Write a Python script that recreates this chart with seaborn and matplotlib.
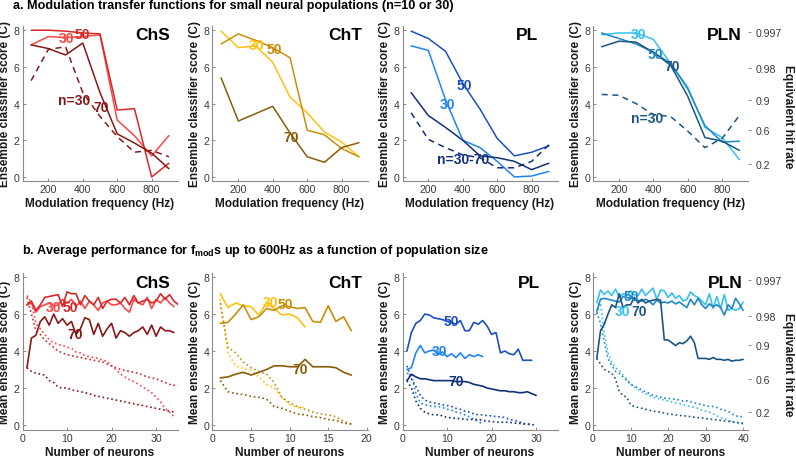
import matplotlib
matplotlib.use('Agg')
import matplotlib.pyplot as plt
import seaborn as sns
import numpy as np

sns.set_theme(style='ticks')
plt.rcParams['font.family'] = ['Liberation Sans', 'DejaVu Sans']
plt.rcParams['mathtext.fontset'] = 'custom'
plt.rcParams['mathtext.bf'] = 'Liberation Sans:bold'
plt.rcParams['mathtext.rm'] = 'Liberation Sans'

# ---------------- data: top row (modulation transfer functions) ----------------
freq = [100, 200, 300, 400, 500, 600, 700, 800, 900]

chs_t30 = [7.2, 7.65, 7.6, 7.65, 7.75, 3.1, 2.25, 1.15, 2.25]
chs_t50 = [8.0, 8.0, 7.95, 7.85, 7.8, 3.65, 3.72, 0.0, 0.75]
chs_t70 = [7.2, 7.0, 6.65, 7.3, 4.6, 2.35, 1.85, 1.3, 0.45]
chs_tn30 = [5.25, 6.95, 7.1, 4.6, 3.3, 2.2, 1.35, 1.45, 1.1]

cht_t30 = [7.95, 7.05, 7.15, 6.25, 4.35, 3.5, 2.45, 1.9, 1.1]
cht_t50 = [7.25, 7.8, 7.45, 7.05, 6.5, 2.55, 2.3, 1.55, 1.1]
cht_t70 = [5.4, 3.05, 3.45, 3.85, 2.4, 1.1, 0.8, 1.6, 1.87]

pl_t30 = [7.15, 6.9, 4.2, 2.0, 1.6, 0.85, 0.0, 0.05, 0.3]
pl_t50 = [7.95, 7.55, 6.85, 5.1, 3.7, 2.1, 1.15, 1.35, 1.7]
pl_t70 = [4.6, 3.35, 2.7, 2.0, 1.15, 1.05, 0.85, 0.4, 0.75]
pl_tn = [3.5, 2.05, 1.6, 1.2, 1.05, 0.5, 0.5, 0.85, 1.75]

pln_t30 = [7.75, 7.85, 7.85, 7.5, 6.2, 4.9, 2.7, 2.15, 0.95]
pln_t50 = [7.85, 7.55, 7.25, 6.8, 6.2, 4.8, 2.8, 1.9, 1.95]
pln_t70 = [7.1, 7.4, 7.35, 6.8, 6.1, 4.4, 2.15, 1.95, 1.45]
pln_tn = [4.5, 4.45, 4.0, 3.4, 3.3, 2.5, 1.6, 2.1, 3.35]

# ---------------- data: bottom row (performance vs number of neurons) ----------------
chs_b30 = [6.5, 6.6, 6.1, 6.4, 6.5, 6.6, 6.4, 6.5, 6.8, 6.6, 6.8, 6.4, 6.7, 6.3, 6.7, 6.5, 6.2,
           6.6, 6.7, 6.5, 6.5, 6.6, 6.3, 6.1, 6.8, 6.6, 6.5, 6.9, 6.3, 6.8, 6.6, 6.9, 6.6, 6.4]
chs_b50 = [6.5, 6.7, 6.2, 6.5, 6.9, 6.95, 7.0, 7.05, 6.4, 7.2, 7.1, 7.1, 6.5, 7.0, 6.7, 6.5, 6.9,
           6.3, 6.7, 6.8, 6.8, 6.6, 6.9, 6.5, 7.0, 6.6, 6.7, 6.8, 6.6, 6.7, 7.1, 6.8, 7.05, 6.7, 6.5]
chs_b70 = [3.1, 4.7, 4.85, 5.6, 5.85, 5.4, 6.0, 5.5, 5.75, 5.4, 5.6, 4.9, 5.2, 5.8, 5.7, 4.9, 5.5,
           4.8, 5.2, 5.5, 4.7, 5.1, 5.0, 4.8, 5.0, 5.1, 5.3, 4.9, 5.4, 4.8, 5.3, 5.1, 5.1, 5.0]
chs_d30 = [7.0, 6.6, 5.5, 5.2, 4.9, 4.6, 4.45, 4.35, 4.3, 4.2, 4.15, 3.95, 3.9, 3.75, 3.7, 3.65, 3.6,
           3.5, 3.45, 3.2, 3.0, 2.75, 2.6, 2.45, 2.35, 2.2, 2.05, 1.9, 1.75, 1.5, 1.25, 0.9, 0.7, 0.45]
chs_d50 = [6.9, 6.0, 5.1, 4.9, 4.6, 4.4, 4.2, 4.0, 3.9, 3.8, 3.75, 3.7, 3.65, 3.6, 3.55, 3.5, 3.45,
           3.4, 3.3, 3.2, 3.1, 3.0, 2.95, 2.9, 2.85, 2.8, 2.7, 2.6, 2.55, 2.5, 2.4, 2.3, 2.2, 2.15, 2.15]
chs_d70 = [3.1, 2.9, 2.8, 2.75, 2.7, 2.4, 2.3, 2.05, 2.0, 2.0, 1.9, 1.85, 1.8, 1.75, 1.7, 1.6, 1.55,
           1.5, 1.45, 1.4, 1.35, 1.3, 1.25, 1.2, 1.15, 1.1, 1.05, 1.0, 0.95, 0.9, 0.85, 0.8, 0.75, 0.7]

cht_b30 = [7.1, 6.35, 6.6, 6.45, 6.4, 5.95, 6.6, 6.3, 5.95, 6.0, 5.8, 5.3]
cht_b50 = [5.5, 5.55, 6.0, 6.5, 5.7, 5.85, 6.3, 6.2, 6.45, 6.4, 6.3, 6.35, 5.6, 5.55, 6.45, 5.6, 5.85, 5.1]
cht_b70 = [2.55, 2.6, 2.75, 2.85, 2.7, 2.85, 3.0, 3.2, 3.2, 3.15, 3.15, 3.55, 3.15, 3.15, 3.15, 3.1, 2.85, 2.7]
cht_d30 = [6.8, 3.9, 3.2, 3.05, 2.95, 2.6, 2.2, 2.0, 1.5, 1.1, 0.95, 0.95]
cht_d50 = [6.6, 4.2, 3.9, 3.4, 3.1, 2.9, 2.75, 2.3, 1.5, 1.2, 1.0, 0.85, 0.7, 0.6, 0.55, 0.45, 0.2, 0.05]
cht_d70 = [2.4, 1.8, 1.7, 1.65, 1.55, 1.5, 1.4, 1.0, 0.9, 0.75, 0.6, 0.55, 0.45, 0.4, 0.3, 0.25, 0.1, 0.05]

pl_b30 = [3.0, 3.1, 3.9, 4.3, 3.9, 4.0, 4.05, 3.8, 3.95, 3.7, 3.85, 3.65, 3.9, 3.6, 3.8, 3.7, 3.8, 3.7]
pl_b50 = [4.0, 5.0, 5.5, 5.65, 6.0, 5.95, 5.8, 5.75, 5.7, 5.6, 5.55, 5.45, 5.65, 5.1, 5.1, 5.55, 5.45,
          5.65, 5.35, 4.9, 5.0, 3.9, 4.0, 3.85, 3.8, 4.1, 3.5, 3.5, 3.5]
pl_b70 = [2.4, 2.75, 2.6, 2.5, 2.5, 2.45, 2.4, 2.4, 2.4, 2.4, 2.4, 2.35, 2.35, 2.35, 2.3, 2.2, 2.15,
          2.1, 2.0, 1.95, 1.9, 1.85, 1.85, 1.8, 1.8, 1.75, 1.75, 1.8, 1.7, 1.6]
pl_d30 = [2.8, 2.7, 1.7, 1.2, 1.1, 1.05, 1.0, 1.0, 0.95, 0.85, 0.8, 0.7, 0.65, 0.55, 0.45, 0.3, 0.2, 0.05]
pl_d50 = [3.2, 2.5, 2.1, 1.6, 1.35, 1.25, 1.2, 1.15, 1.1, 1.05, 1.0, 0.9, 0.85, 0.75, 0.7, 0.6, 0.55,
          0.55, 0.5, 0.5, 0.45, 0.45, 0.4, 0.3, 0.25, 0.2, 0.1, 0.05, 0.02]
pl_d70 = [2.4, 2.0, 1.3, 0.9, 0.7, 0.6, 0.55, 0.55, 0.5, 0.4, 0.4, 0.35, 0.35, 0.3, 0.3, 0.3, 0.3,
          0.25, 0.2, 0.2, 0.15, 0.15, 0.15, 0.15, 0.1, 0.1, 0.05, 0.05, 0.02, 0.0]

pln_b30 = [6.6, 7.3, 7.05, 7.25, 7.0, 7.35, 6.9, 7.1, 7.0, 7.25, 7.05, 7.0, 7.35, 7.0, 7.2, 7.4, 6.8,
           7.3, 7.25, 6.9, 7.15, 6.85, 7.0, 6.7, 6.8, 7.2, 7.0, 6.9, 6.7, 6.5, 7.1, 6.3, 6.95, 6.3,
           7.05, 6.2, 6.3, 6.2, 6.3, 6.65]
pln_b50 = [6.15, 6.8, 6.85, 6.8, 6.75, 6.7, 6.65, 6.95, 6.9, 6.85, 6.8, 6.75, 6.7, 6.8, 6.7, 6.5, 6.75,
           6.6, 6.65, 6.6, 6.7, 6.55, 6.65, 6.5, 6.35, 6.8, 6.5, 6.85, 6.5, 6.3, 6.55, 6.4, 6.5, 6.35,
           5.95, 6.5, 6.3, 6.85, 6.55, 6.2]
pln_b70 = [3.6, 5.1, 5.45, 6.0, 6.5, 6.35, 7.1, 6.35, 6.5, 6.5, 6.9, 6.6, 6.8, 6.6, 6.7, 6.75, 6.8,
           6.75, 4.6, 4.6, 4.45, 4.3, 4.45, 4.4, 4.55, 4.8, 4.45, 3.6, 3.6, 3.6, 3.55, 3.65, 3.55, 3.55,
           3.5, 3.55, 3.45, 3.5, 3.5, 3.55]
pln_d30 = [6.0, 6.6, 5.0, 3.9, 3.4, 3.1, 2.95, 2.7, 2.5, 2.2, 2.05, 1.9, 1.8, 1.7, 1.6, 1.5, 1.45, 1.4,
           1.35, 1.3, 1.25, 1.2, 1.15, 1.1, 1.05, 1.0, 0.95, 0.9, 0.8, 0.75, 0.7, 0.6, 0.5, 0.4, 0.35,
           0.25, 0.2, 0.1, 0.08, 0.05]
pln_d50 = [6.1, 5.5, 4.5, 3.6, 3.2, 2.9, 2.8, 2.6, 2.4, 2.2, 2.1, 2.0, 1.9, 1.8, 1.7, 1.6, 1.55, 1.5,
           1.45, 1.45, 1.4, 1.4, 1.35, 1.3, 1.3, 1.25, 1.2, 1.15, 1.1, 1.05, 1.0, 1.0, 0.95, 0.85, 0.8,
           0.75, 0.6, 0.5, 0.45, 0.45]
pln_d70 = [3.6, 3.3, 3.0, 2.9, 2.8, 2.5, 1.8, 1.6, 1.5, 1.1, 1.0, 0.95, 0.9, 0.85, 0.8, 0.75, 0.72,
           0.7, 0.65, 0.6, 0.58, 0.55, 0.52, 0.5, 0.48, 0.45, 0.42, 0.4, 0.38, 0.35, 0.32, 0.3, 0.28,
           0.25, 0.22, 0.2, 0.18, 0.15, 0.12, 0.1]

hit_ticks_top = [7.9, 5.95, 4.2, 2.55, 0.69]
hit_ticks_bot = [7.86, 5.9, 4.3, 2.48, 0.68]
hit_labels = ['0.997', '0.98', '0.9', '0.6', '0.2']

# ---------------- colours ----------------
C = {
    'ChS': ['#ff4545', '#d42a2a', '#861818'],
    'ChT': ['#ffc20e', '#c98f0c', '#8a5c06'],
    'PL': ['#1f84f5', '#1c4fc0', '#112f7a'],
    'PLN': ['#38c0f0', '#1f88c4', '#1b5584'],
}

W, H = 796, 460
fig = plt.figure(figsize=(W / 100, H / 100), dpi=100)

lefts = [22.5, 212.5, 402.5, 593]
aw = 155


def px_axes(left, top, bottom, width=aw):
    return fig.add_axes([left / W, 1 - bottom / H, width / W, (bottom - top) / H])


def style(ax):
    for s in ['top', 'right']:
        ax.spines[s].set_visible(False)
    for s in ['left', 'bottom']:
        ax.spines[s].set_color('#8a8a8a')
        ax.spines[s].set_linewidth(0.8)
    ax.tick_params(direction='in', length=2.5, width=0.7, color='#8a8a8a',
                   labelcolor='#3a3a3a', labelsize=7.6, pad=2)


def draw(ax, x, y, color, ls='-', lw=1.1):
    sns.lineplot(x=list(x), y=list(y), ax=ax, color=color, linestyle=ls, linewidth=lw,
                 estimator=None, sort=False)


def lab(ax, x, y, s, color, size=10):
    ax.text(x, y, s, color=color, fontsize=size, fontweight='bold', ha='center', va='center')


label_kw = dict(fontsize=8.6, fontweight='bold', color='#1a1a1a')

# ---------------- top row ----------------
top_sets = [
    ('ChS', [chs_t30, chs_t50, chs_t70], chs_tn30, 0.842),
    ('ChT', [cht_t30, cht_t50, cht_t70], None, 0.855),
    ('PL', [pl_t30, pl_t50, pl_t70], pl_tn, 0.803),
    ('PLN', [pln_t30, pln_t50, pln_t70], pln_tn, 0.845),
]
top_axes = []
for i, (name, series, dashed, tx) in enumerate(top_sets):
    ax = px_axes(lefts[i], 27, 182)
    cols = C[name]
    for s, c in zip(series, cols):
        draw(ax, freq, s, c)
    if dashed is not None:
        dcol = cols[2]
        sns.lineplot(x=freq, y=dashed, ax=ax, color=dcol, linewidth=1.1,
                     estimator=None, sort=False).lines[-1].set_dashes([4, 3])
    ax.set_xlim(50, 950)
    ax.set_ylim(-0.22, 8.23)
    ax.set_xticks([200, 400, 600, 800])
    ax.set_yticks([0, 2, 4, 6, 8])
    style(ax)
    ax.set_xlabel('Modulation frequency (Hz)', labelpad=2, **label_kw)
    ax.set_ylabel('Ensemble classifier score (C)', labelpad=2, **label_kw)
    ax.text(tx, 0.948, name, transform=ax.transAxes, fontsize=12.5, fontweight='bold',
            ha='center', va='center', color='black')
    top_axes.append(ax)

a0, a1, a2, a3 = top_axes
lab(a0, 304, 7.57, '30', C['ChS'][0])
lab(a0, 400, 7.78, '50', C['ChS'][1])
lab(a0, 352, 4.18, 'n=30', C['ChS'][2])
lab(a0, 507, 3.82, '70', C['ChS'][2])
lab(a1, 307, 7.2, '30', C['ChT'][0])
lab(a1, 410, 7.0, '50', C['ChT'][1])
lab(a1, 507, 2.18, '70', C['ChT'][2])
lab(a2, 410, 5.0, '50', C['PL'][1])
lab(a2, 313, 3.97, '30', C['PL'][0])
lab(a2, 400, 1.0, 'n=30-70', C['PL'][2])
lab(a3, 313, 7.82, '30', C['PLN'][0])
lab(a3, 410, 6.7, '50', C['PLN'][1])
lab(a3, 510, 6.05, '70', C['PLN'][2])
lab(a3, 362, 3.2, 'n=30', C['PLN'][2])

# ---------------- bottom row ----------------
bot_sets = [
    ('ChS', [chs_b30, chs_b50, chs_b70], [chs_d30, chs_d50, chs_d70], (0, 34.8), [0, 10, 20, 30], 0.842),
    ('ChT', [cht_b30, cht_b50, cht_b70], [cht_d30, cht_d50, cht_d70], (0, 20.1), [0, 5, 10, 15, 20], 0.855),
    ('PL', [pl_b30, pl_b50, pl_b70], [pl_d30, pl_d50, pl_d70], (0, 34.8), [0, 10, 20, 30], 0.816),
    ('PLN', [pln_b30, pln_b50, pln_b70], [pln_d30, pln_d50, pln_d70], (0, 41.3), [0, 10, 20, 30, 40], 0.855),
]
bot_axes = []
for i, (name, solid, dotted, xl, xt, tx) in enumerate(bot_sets):
    ax = px_axes(lefts[i], 274, 431)
    cols = C[name]
    for s, c in zip(dotted, cols):
        draw(ax, range(1, len(s) + 1), s, c, ls=':', lw=1.2)
    for s, c in zip(solid, cols):
        draw(ax, range(1, len(s) + 1), s, c, lw=1.2)
    ax.set_xlim(*xl)
    ax.set_ylim(-0.27, 8.22)
    ax.set_xticks(xt)
    ax.set_yticks([0, 2, 4, 6, 8])
    style(ax)
    ax.set_xlabel('Number of neurons', labelpad=2, **label_kw)
    ax.set_ylabel('Mean ensemble score (C)', labelpad=2, **label_kw)
    ax.text(tx, 0.94, name, transform=ax.transAxes, fontsize=12.5, fontweight='bold',
            ha='center', va='center', color='black')
    bot_axes.append(ax)

b0, b1, b2, b3 = bot_axes
lab(b0, 6.9, 6.38, '30', C['ChS'][0])
lab(b0, 10.8, 6.38, '50', C['ChS'][1])
lab(b0, 11.9, 4.9, '70', C['ChS'][2])
lab(b1, 7.5, 6.67, '30', C['ChT'][0])
lab(b1, 9.5, 6.52, '50', C['ChT'][1])
lab(b1, 11.4, 3.05, '70', C['ChT'][2])
lab(b2, 11.0, 5.62, '50', C['PL'][1])
lab(b2, 8.2, 4.0, '30', C['PL'][0])
lab(b2, 12.1, 2.38, '70', C['PL'][2])
lab(b3, 10.3, 6.95, '50', C['PLN'][1])
lab(b3, 7.8, 6.15, '30', C['PLN'][0])
lab(b3, 12.3, 6.15, '70', C['PLN'][2])

# ---------------- right-hand hit-rate axes ----------------
for ax, ticks in [(a3, hit_ticks_top), (b3, hit_ticks_bot)]:
    ax2 = ax.twinx()
    ax2.set_ylim(ax.get_ylim())
    ax2.set_yticks(ticks)
    ax2.set_yticklabels(hit_labels)
    for s in ['top', 'right', 'left', 'bottom']:
        ax2.spines[s].set_visible(False)
    ax2.tick_params(axis='y', direction='out', length=2.5, width=0.7, color='#8a8a8a',
                    labelcolor='#3a3a3a', labelsize=7.6, pad=3)
    ax2.set_ylabel('Equivalent hit rate', rotation=270, va='center', ha='center', **label_kw)
    ax2.yaxis.set_label_coords(1.255, 0.42)

# ---------------- panel headings ----------------
fig.text(13 / W, 1 - 6 / H, 'a. Modulation transfer functions for small neural populations (n=10 or 30)',
         fontsize=9.1, fontweight='bold', ha='left', va='center', color='black')
fig.text(22 / W, 1 - 251 / H,
         r'b. Average performance for f$_{\mathbf{mod}}$s up to 600Hz as a function of population size',
         fontsize=9.1, fontweight='bold', ha='left', va='center', color='black')

fig.savefig('out.png', dpi=100)
